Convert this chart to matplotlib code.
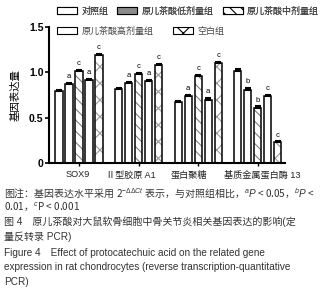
import matplotlib.pyplot as plt
import numpy as np

plt.rcParams['font.family'] = ['Liberation Sans', 'Noto Sans CJK SC']
plt.rcParams['mathtext.fontset'] = 'custom'
plt.rcParams['mathtext.rm'] = 'Noto Sans CJK SC'
plt.rcParams['mathtext.it'] = 'Liberation Sans:italic'
plt.rcParams['hatch.linewidth'] = 0.8

# datos
genes = ['SOX9', 'Ⅱ型胶原 A1', '蛋白聚糖', '基质金属蛋白酶 13']
grupos = ['对照组', '原儿茶酸低剂量组', '原儿茶酸中剂量组', '原儿茶酸高剂量组', '空白组']
valores = [
    [0.79, 0.82, 0.67, 1.02],   # 对照组
    [0.87, 0.88, 0.74, 0.81],   # 低剂量
    [1.01, 0.98, 0.96, 0.61],   # 中剂量
    [0.91, 0.90, 0.70, 0.74],   # 高剂量
    [1.19, 1.08, 1.10, 0.23],   # 空白组
]
errores = [
    [0.01, 0.01, 0.01, 0.015],
    [0.015, 0.015, 0.015, 0.015],
    [0.015, 0.015, 0.015, 0.015],
    [0.015, 0.015, 0.015, 0.015],
    [0.015, 0.015, 0.015, 0.01],
]
letras = [
    ['', '', '', ''],
    ['a', 'a', 'a', 'b'],
    ['c', 'c', 'c', 'b'],
    ['a', 'a', 'a', 'c'],
    ['c', 'c', 'c', 'c'],
]

rellenos = ['white', '#8a8a8a', 'white', 'white', 'white']
tramas = [None, None, '\\\\\\', None, 'xx']
color_trama = ['black', 'black', '#808080', 'black', '#9a9a9a']
# desplazamiento de las etiquetas del eje x (en unidades de grupo)
desp_etiq = [-0.02, -0.13, -0.15, 0.07]

fig = plt.figure(figsize=(3.35, 3.0), dpi=100)
ax = fig.add_axes([49/335, (300-163)/300, (285-49)/335, (163-27)/300])

x = np.arange(len(genes))
paso = 0.168
ancho = 0.118
handles = []
for i in range(len(grupos)):
    pos = x + (i - 2) * paso
    if tramas[i]:
        ax.bar(pos, valores[i], ancho, color=rellenos[i], hatch=tramas[i],
               edgecolor=color_trama[i], linewidth=0, zorder=2)
    b = ax.bar(pos, valores[i], ancho, color='none', edgecolor='black',
               linewidth=1.1, zorder=3)
    ax.errorbar(pos, valores[i], yerr=[[0] * 4, errores[i]], fmt='none',
                ecolor='black', elinewidth=1.5, capsize=2.2, capthick=1.5, zorder=4)
    for xi, v, e, l in zip(pos, valores[i], errores[i], letras[i]):
        if l:
            ax.text(xi, v + e + 0.03, l, ha='center', va='bottom', fontsize=5.5)
    h = plt.Rectangle((0, 0), 1, 1, facecolor=rellenos[i], hatch=tramas[i],
                      edgecolor='black', linewidth=0.8)
    handles.append(h)

ax.set_ylim(0, 1.5)
ax.set_xlim(-0.504, 3.46)
ax.set_yticks([0, 0.5, 1.0, 1.5])
ax.set_yticklabels(['0', '0.5', '1.0', '1.5'], fontweight='bold', fontsize=7.5)
ax.set_xticks(x)
ax.set_xticklabels([])
for xi, g, d in zip(x, genes, desp_etiq):
    ax.text(xi + d, -0.055, g, ha='center', va='top', fontsize=6.6, color='#222222',
            transform=ax.get_xaxis_transform())
ax.tick_params(axis='y', length=3, width=1.2, pad=1)
ax.tick_params(axis='x', length=2.5, width=1, pad=3)
ax.spines['top'].set_visible(False)
ax.spines['right'].set_visible(False)
ax.spines['left'].set_linewidth(1.5)
ax.spines['bottom'].set_linewidth(1.5)
ax.set_ylabel('基因表达量', fontsize=7.5, labelpad=6)

# leyenda en dos filas
l1 = fig.legend(handles[:3], grupos[:3], loc='center left', bbox_to_anchor=(57/335, 1 - 11/300),
                ncol=3, frameon=False, fontsize=6.5, handlelength=2.2, handleheight=0.9,
                columnspacing=1.0, handletextpad=0.5, borderaxespad=0, borderpad=0,
                labelcolor='#444444')
l2 = fig.legend(handles[3:], grupos[3:], loc='center left', bbox_to_anchor=(57/335, 1 - 31/300),
                ncol=2, frameon=False, fontsize=6.5, handlelength=2.2, handleheight=0.9,
                columnspacing=2.2, handletextpad=0.5, borderaxespad=0, borderpad=0,
                labelcolor='#444444')
fig.add_artist(l1)

cap = dict(fontsize=7.2, color='#333333', ha='left', va='center')
fig.text(4/335, 1 - 194/300, '图注：基因表达水平采用 2$^{-ΔΔCt}$ 表示，与对照组相比，$^{a}P$ < 0.05，$^{b}P$ <',
         family='Noto Sans CJK SC', **cap)
fig.text(4/335, 1 - 207/300, '0.01，$^{c}$P < 0.001', family='Noto Sans CJK SC', **cap)
fig.text(4/335, 1 - 222/300, '图 4　原儿茶酸对大鼠软骨细胞中骨关节炎相关基因表达的影响(定', **cap)
fig.text(4/335, 1 - 237/300, '量反转录 PCR)', **cap)
fig.text(4/335, 1 - 253/300, 'Figure 4　Effect of protocatechuic acid on the related gene', **cap)
fig.text(4/335, 1 - 267/300, 'expression in rat chondrocytes (reverse transcription-quantitative', **cap)
fig.text(4/335, 1 - 282/300, 'PCR)', **cap)

fig.savefig('out.png', dpi=100)
